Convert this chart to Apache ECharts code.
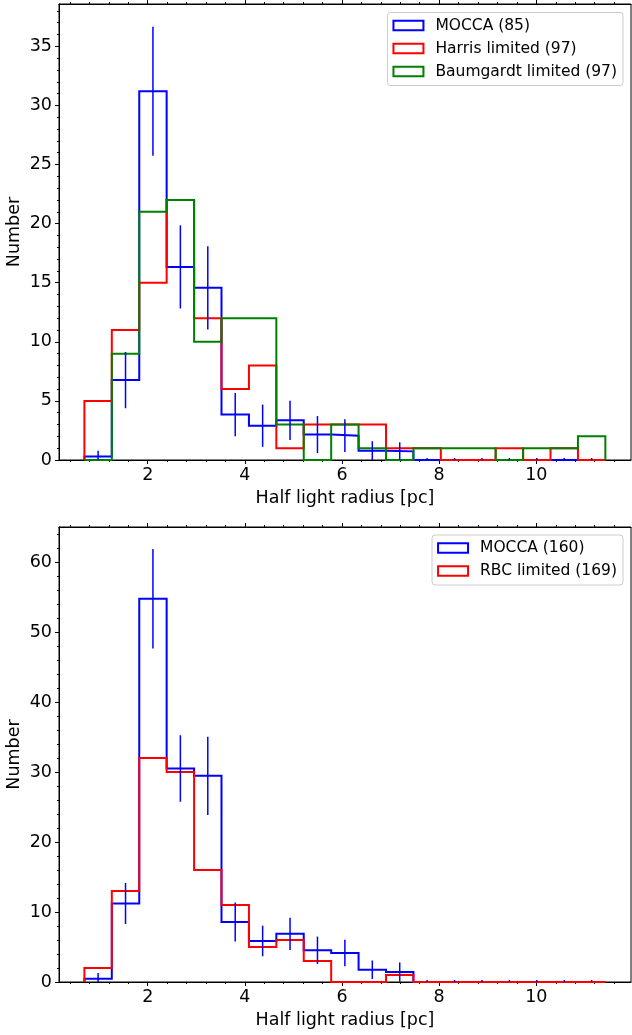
<!DOCTYPE html>
<html>
<head>
<meta charset="utf-8">
<script src="https://cdn.jsdelivr.net/npm/echarts@6/dist/echarts.min.js"></script>
<style>
html,body{margin:0;padding:0;background:#fff;}
#chart{width:632px;height:1035px;}
</style>
</head>
<body>
<div id="chart"></div>
<script>
// Histogram bin edges (pc)
const binEdges = [0.697, 1.261, 1.826, 2.390, 2.955, 3.519, 4.084, 4.648, 5.212, 5.777,
                  6.341, 6.906, 7.470, 8.034, 8.599, 9.163, 9.728, 10.292, 10.857, 11.421];

// Top panel
const moccaTop    = [0.29, 6.76, 31.2, 16.34, 14.57, 3.84, 2.9, 3.36, 2.15, 2.06, 0.79, 0.73, 0, 0, 0, 0, 0, 0, 0];
const moccaTopErr = [0.5, 2.38, 5.45, 3.52, 3.52, 1.82, 1.79, 1.66, 1.57, 1.38, 0.8, 0.77, 0, 0, 0, 0, 0, 0, 0];
const harrisTop   = [5, 11, 15, 22, 12, 6, 8, 1, 3, 3, 3, 1, 1, 0, 0, 1, 0, 1, 0];
const baumTop     = [0, 9, 21, 22, 10, 12, 12, 3, 0, 3, 1, 0, 1, 1, 1, 0, 1, 1, 2];

// Bottom panel
const moccaBot    = [0.47, 11.22, 54.76, 30.5, 29.45, 8.57, 5.86, 6.88, 4.53, 4.14, 1.75, 1.43, 0, 0, 0, 0, 0, 0, 0];
const moccaBotErr = [0.81, 2.93, 7.1, 4.75, 5.6, 2.79, 2.19, 2.31, 1.96, 1.9, 1.32, 1.37, 0, 0, 0, 0, 0, 0, 0];
const rbcBot      = [2, 13, 32, 30, 16, 11, 5, 6, 3, 0, 0, 1, 0, 0, 0, 0, 0, 0, 0];

// Legend labels
const topNames = ['MOCCA (85)', 'Harris limited (97)', 'Baumgardt limited (97)'];
const botNames = ['MOCCA (160)', 'RBC limited (169)'];

// Tick values
const xMajorTicks = [2, 4, 6, 8, 10];
const xMinorTicks = [0.4, 0.8, 1.2, 1.6, 2.4, 2.8, 3.2, 3.6, 4.4, 4.8, 5.2, 5.6, 6.4, 6.8, 7.2, 7.6,
                     8.4, 8.8, 9.2, 9.6, 10.4, 10.8, 11.2, 11.6];
const yTopMajor = [0, 5, 10, 15, 20, 25, 30, 35];
const yTopMinor = [1, 2, 3, 4, 6, 7, 8, 9, 11, 12, 13, 14, 16, 17, 18, 19, 21, 22, 23, 24, 26, 27, 28, 29, 31, 32, 33, 34, 36, 37, 38];
const yBotMajor = [0, 10, 20, 30, 40, 50, 60];
const yBotMinor = [2, 4, 6, 8, 12, 14, 16, 18, 22, 24, 26, 28, 32, 34, 36, 38, 42, 44, 46, 48, 52, 54, 56, 58, 62, 64];

const XMIN = 0.174, XMAX = 11.949;
const YTOPMAX = 38.585, YBOTMAX = 65.0;

const FONT = 'DejaVu Sans';
const BLUE = '#0000ff', RED = '#ff0000', GREEN = '#008000';

const binCenters = binEdges.slice(0, -1).map((e, i) => (e + binEdges[i + 1]) / 2);

function stepPoints(values) {
  const pts = [[binEdges[0], 0]];
  values.forEach((v, i) => { pts.push([binEdges[i], v]); pts.push([binEdges[i + 1], v]); });
  pts.push([binEdges[values.length], 0]);
  return pts;
}
function errData(values, errs) {
  return values.map((v, i) => [binCenters[i], v, errs[i]]);
}

function xAxes(grid) {
  const base = {type: 'value', gridIndex: grid, min: XMIN, max: XMAX, splitLine: {show: false}};
  return [
    Object.assign({}, base, {
      position: 'bottom',
      axisLine: {show: true, onZero: false, lineStyle: {color: '#000', width: 1}},
      axisTick: {show: true, inside: false, length: 4, customValues: xMajorTicks, lineStyle: {color: '#000', width: 1}},
      axisLabel: {show: true, customValues: xMajorTicks, margin: 6, fontSize: 17.5, color: '#000', fontFamily: FONT},
      name: 'Half light radius [pc]', nameLocation: 'middle', nameGap: 29, nameMoveOverlap: false,
      nameTextStyle: {fontSize: 17.5, color: '#000', fontFamily: FONT}
    }),
    Object.assign({}, base, {
      position: 'bottom',
      axisLine: {show: false, onZero: false},
      axisTick: {show: true, inside: false, length: 2, customValues: xMinorTicks, lineStyle: {color: '#000', width: 1}},
      axisLabel: {show: false}
    }),
    Object.assign({}, base, {
      position: 'top',
      axisLine: {show: true, onZero: false, lineStyle: {color: '#000', width: 1}},
      axisTick: {show: true, inside: false, length: 4, customValues: xMajorTicks, lineStyle: {color: '#000', width: 1}},
      axisLabel: {show: false}
    }),
    Object.assign({}, base, {
      position: 'top',
      axisLine: {show: false, onZero: false},
      axisTick: {show: true, inside: false, length: 2, customValues: xMinorTicks, lineStyle: {color: '#000', width: 1}},
      axisLabel: {show: false}
    })
  ];
}
function yAxes(grid, max, major, minor) {
  const base = {type: 'value', gridIndex: grid, min: 0, max: max, splitLine: {show: false}, position: 'left'};
  return [
    Object.assign({}, base, {
      axisLine: {show: true, onZero: false, lineStyle: {color: '#000', width: 1}},
      axisTick: {show: true, inside: false, length: 4, customValues: major, lineStyle: {color: '#000', width: 1}},
      axisLabel: {show: true, customValues: major, margin: 7, fontSize: 17.5, color: '#000', fontFamily: FONT},
      name: 'Number', nameLocation: 'middle', nameGap: 36, nameMoveOverlap: false,
      nameTextStyle: {fontSize: 17.5, color: '#000', fontFamily: FONT}
    }),
    Object.assign({}, base, {
      axisLine: {show: false, onZero: false},
      axisTick: {show: true, inside: false, length: 2, customValues: minor, lineStyle: {color: '#000', width: 1}},
      axisLabel: {show: false}
    })
  ];
}

function stepSeries(name, values, color, xi, yi, z) {
  return {
    name: name, type: 'line', xAxisIndex: xi, yAxisIndex: yi, data: stepPoints(values),
    symbol: 'none', showSymbol: false, clip: false, z: z, silent: true,
    lineStyle: {color: color, width: 2, join: 'miter'}, itemStyle: {color: color}
  };
}
function errSeries(name, values, errs, xi, yi) {
  return {
    name: name, type: 'custom', xAxisIndex: xi, yAxisIndex: yi, z: 10, silent: true,
    data: errData(values, errs), encode: {x: 0, y: 1},
    renderItem: function (params, api) {
      const x = api.value(0), v = api.value(1), e = api.value(2);
      const c = api.coord([x, v]);
      let y1 = api.coord([x, Math.max(v - e, 0)])[1];
      let y2 = api.coord([x, v + e])[1];
      if (y1 - y2 < 2) { y1 = c[1]; y2 = c[1] - 2; }
      return {type: 'line', shape: {x1: c[0], y1: y1, x2: c[0], y2: y2},
              style: {stroke: BLUE, lineWidth: 1.5}};
    }
  };
}
function legendItem(name, color) {
  return {name: name, icon: 'rect', itemStyle: {color: '#ffffff', borderColor: color, borderWidth: 2, opacity: 1}};
}
function legend(top, names, colors) {
  return {
    orient: 'vertical', right: 9, top: top, itemWidth: 30, itemHeight: 9.5, itemGap: 7,
    padding: [5, 6, 6, 5], backgroundColor: 'rgba(255,255,255,0.8)', borderColor: '#cccccc',
    borderWidth: 1, borderRadius: 3, selectedMode: false,
    textStyle: {fontSize: 15.5, color: '#000', fontFamily: FONT, padding: [0, 0, 0, 7]},
    data: names.map((n, i) => legendItem(n, colors[i]))
  };
}

const chart = echarts.init(document.getElementById('chart'), null, {renderer: 'canvas'});
chart.setOption({
  animation: false,
  backgroundColor: '#ffffff',
  grid: [
    {left: 59, top: 4, width: 572, height: 456, show: true, borderColor: '#000', borderWidth: 1,
     backgroundColor: 'transparent', containLabel: false, outerBoundsMode: 'none'},
    {left: 59, top: 527, width: 572, height: 455, show: true, borderColor: '#000', borderWidth: 1,
     backgroundColor: 'transparent', containLabel: false, outerBoundsMode: 'none'}
  ],
  xAxis: xAxes(0).concat(xAxes(1)),
  yAxis: yAxes(0, YTOPMAX, yTopMajor, yTopMinor).concat(yAxes(1, YBOTMAX, yBotMajor, yBotMinor)),
  legend: [
    legend(12.5, topNames, [BLUE, RED, GREEN]),
    legend(535, botNames, [BLUE, RED])
  ],
  series: [
    stepSeries(topNames[0], moccaTop, BLUE, 0, 0, 2),
    stepSeries(topNames[1], harrisTop, RED, 0, 0, 3),
    stepSeries(topNames[2], baumTop, GREEN, 0, 0, 4),
    errSeries('MOCCA top errors', moccaTop, moccaTopErr, 0, 0),
    stepSeries(botNames[0], moccaBot, BLUE, 4, 2, 2),
    stepSeries(botNames[1], rbcBot, RED, 4, 2, 3),
    errSeries('MOCCA bottom errors', moccaBot, moccaBotErr, 4, 2)
  ]
});
</script>
</body>
</html>
